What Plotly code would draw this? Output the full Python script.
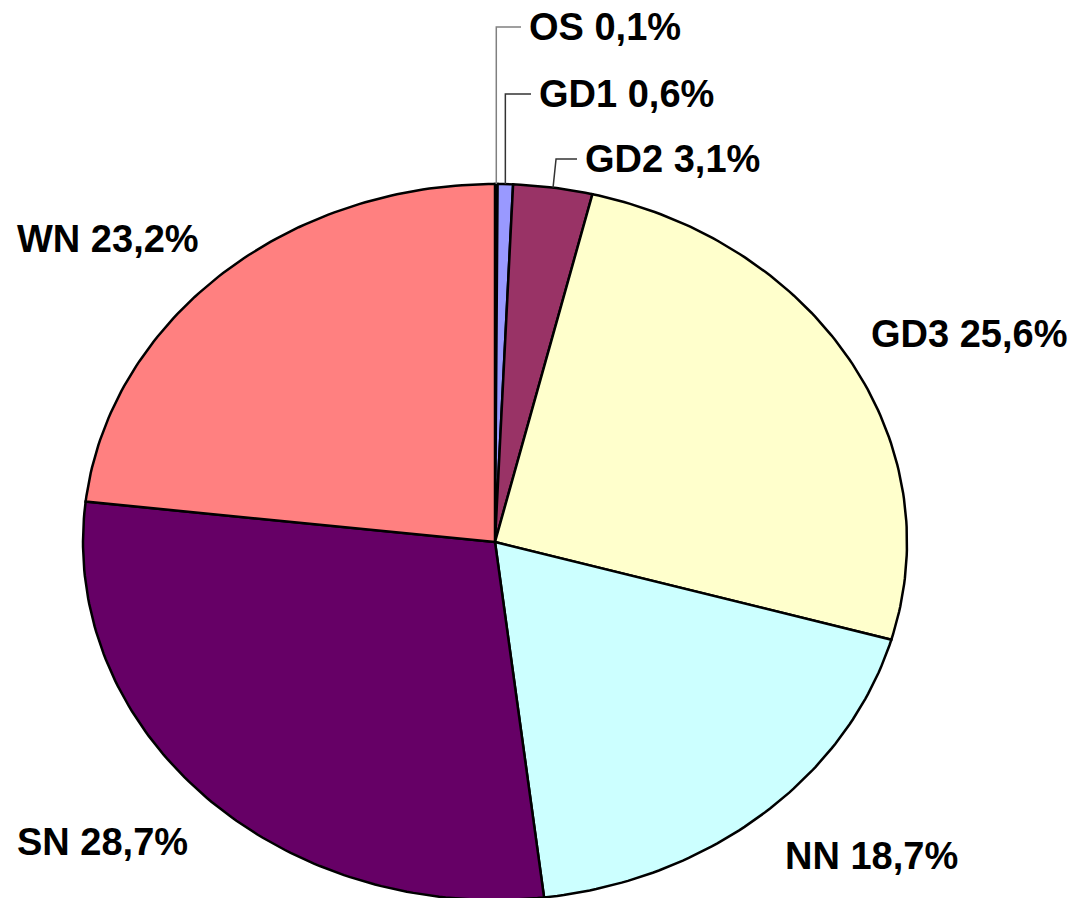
import numpy as np
import plotly.graph_objs as go

labels = ['OS', 'GD1', 'GD2', 'GD3', 'NN', 'SN', 'WN']
values = [0.1, 0.6, 3.1, 25.6, 18.7, 28.7, 23.2]
colors = ['#3366CC', '#9999FF', '#993366', '#FFFFCC', '#CCFFFF', '#660066', '#FF8080']

# pixel geometry of the (stretched) pie in the 1073x898 page
W, H = 1073, 898
CX, CY, RX, RY = 495, 542, 412, 358


def px(x, y):
    return (x - CX) / RX, (CY - y) / RY


# label placement: left edge x, vertical centre y (pixels)
label_pos = {
    'OS': (527, 27), 'GD1': (537, 94), 'GD2': (583, 159),
    'GD3': (869, 334), 'NN': (783, 856), 'SN': (15, 842), 'WN': (15, 239),
}

data = []
total = sum(values)
start = 0.0
mids = []
for lab, val, col in zip(labels, values, colors):
    a0 = start / total * 2 * np.pi
    a1 = (start + val) / total * 2 * np.pi
    n = max(4, int(400 * val / total))
    t = np.linspace(a0, a1, n)
    xs = np.concatenate([[0], np.sin(t), [0]])
    ys = np.concatenate([[0], np.cos(t), [0]])
    data.append(go.Scatter(x=xs, y=ys, mode='lines', fill='toself',
                           fillcolor=col, line=dict(color='black', width=2.5),
                           hoverinfo='skip', showlegend=False))
    mids.append((a0 + a1) / 2)
    start += val

annotations = []
for lab, val, m in zip(labels, values, mids):
    lx, ly = label_pos[lab]
    ax, ay = px(lx, ly)
    annotations.append(dict(
        x=ax, y=ay, xref='x', yref='y', xanchor='left', yanchor='middle',
        text=f'{lab} {val:.1f}%'.replace('.', ','), showarrow=False,
        font=dict(family='Liberation Sans', size=38, color='black', weight='bold')))

# leader lines for the thin slices at the top
leader_colors = {'OS': '#808080', 'GD1': '#333333', 'GD2': '#333333'}
for lab, m in zip(labels, mids):
    if lab not in leader_colors:
        continue
    lx, ly = label_pos[lab]
    ex, ey = np.sin(m), np.cos(m)
    ex_px = CX + ex * RX
    knee_px = ex_px + 3 if lab == 'GD2' else ex_px
    kx, ky = px(knee_px, ly)
    hx, _ = px(lx - 6, ly)
    data.append(go.Scatter(x=[ex, kx, hx], y=[ey, ky, ky], mode='lines',
                           line=dict(color=leader_colors[lab], width=1.5),
                           hoverinfo='skip', showlegend=False))

layout = go.Layout(
    width=W, height=H,
    margin=dict(l=0, r=0, t=0, b=0),
    paper_bgcolor='white', plot_bgcolor='white',
    xaxis=dict(range=[-CX / RX, (W - CX) / RX], visible=False, fixedrange=True),
    yaxis=dict(range=[(CY - H) / RY, CY / RY], visible=False, fixedrange=True),
    annotations=annotations,
)

fig = go.Figure(data=data, layout=layout)
fig.write_html('out.html', config={'displayModeBar': False},
               post_script="document.body.style.margin='0';document.body.style.overflow='hidden';")
